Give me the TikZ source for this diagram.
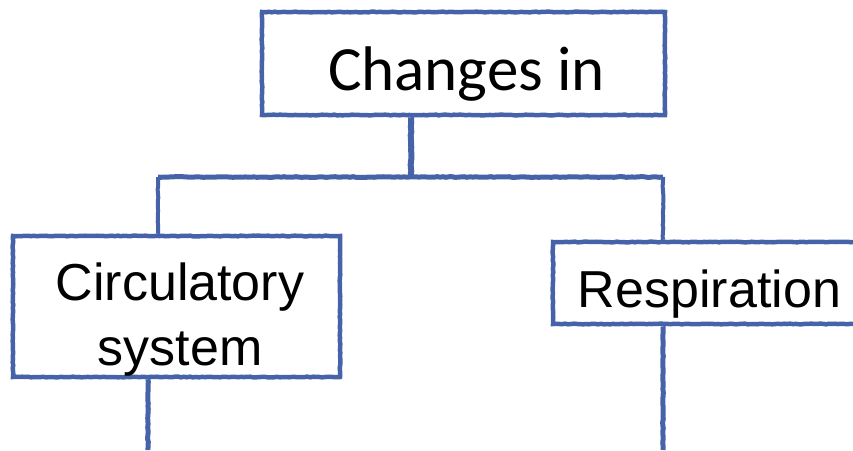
\documentclass[tikz,border=0pt]{standalone}
\usepackage{fontspec}
\setmainfont{Liberation Sans}
\newfontfamily\calib{Carlito}
\usetikzlibrary{decorations.pathmorphing}
\definecolor{brush}{RGB}{70,98,168}
\tikzset{
  rough/.style={decorate, decoration={random steps, segment length=3pt, amplitude=0.35pt}},
  boxframe/.style={draw=brush, line width=4.5pt, rough, fill=white, inner sep=0pt},
  link/.style={draw=brush, line width=5pt, rough, line cap=butt},
  bigtxt/.style={inner sep=0pt, anchor=base, font=\fontsize{52}{60}\selectfont},
}
\begin{document}
\begin{tikzpicture}[x=1pt,y=-1pt]
\useasboundingbox (0,0) rectangle (853,450);
% boxes
\node[boxframe, minimum width=403pt, minimum height=103pt] (top) at (463.5,63.5) {};
\node[boxframe, minimum width=327pt, minimum height=141pt] (circ) at (176.5,306.5) {};
\node[boxframe, minimum width=340pt, minimum height=82pt] (resp) at (723,283) {};
% texts
\node[inner sep=0pt, anchor=base, font=\calib\fontsize{63}{70}\selectfont] (toptxt) at (466.5,90) {Changes in};
\node[bigtxt] (circtxt1) at (180,300) {Circulatory};
\node[bigtxt] (circtxt2) at (180,365) {system};
\node[bigtxt] (resptxt) at (709.5,307) {Respiration};
% junction coordinates
\coordinate (j) at (411,177);
\coordinate (jl) at (158,177);
\coordinate (jr) at (663,177);
\coordinate (endl) at (148,450);
\coordinate (endr) at (663,450);
% connectors
\draw[link, line width=6pt] (top.south -| j) -- (j);
\draw[link] (jl) -- (jr);
\draw[link, line width=4pt] (jl) -- (jl |- circ.north);
\draw[link, line width=4pt] (jr) -- (jr |- resp.north);
\draw[link] (circ.south -| endl) -- (endl);
\draw[link] (resp.south -| endr) -- (endr);
\end{tikzpicture}
\end{document}
